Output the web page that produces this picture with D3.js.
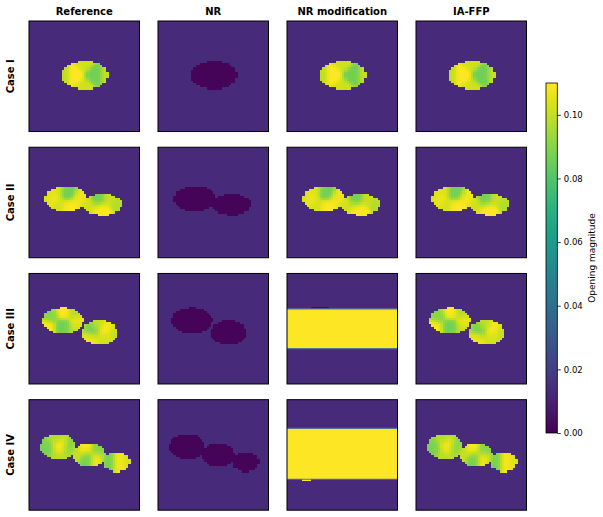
<!DOCTYPE html>
<html><head><meta charset="utf-8">
<script src="https://cdn.jsdelivr.net/npm/d3@7"></script>
<style>body{margin:0;background:#fff}svg{display:block}text{font-family:"DejaVu Sans",sans-serif}</style>
</head><body>
<div id="chart"></div>
<script>
// ---------------- data ----------------
const columns = ["Reference", "NR", "NR modification", "IA-FFP"];
const cases = ["Case I", "Case II", "Case III", "Case IV"];
const gridSize = 50;
const vmax = 0.11;
const backgroundOpening = 0.013;
const nrOpening = 0.001;
const colorbarTicks = [0.00, 0.02, 0.04, 0.06, 0.08, 0.10];
const colorbarLabel = "Opening magnitude";

// fracture ellipses per case: [cx, cy, rx, ry] in grid cells
const caseIEllipses = [[25.3, 24.5, 10.5, 6.4]];
const caseIIEllipses = [[16.7, 23.4, 9.5, 5.8], [33.2, 25.9, 8.7, 4.8]];
const caseIIIEllipses = [[15.4, 21.3, 9.2, 5.9], [32.0, 26.7, 8.0, 5.7]];
const caseIVEllipses = [[13.3, 21.3, 8.0, 5.7], [27.2, 25.0, 7.4, 5.2], [39.6, 28.1, 6.1, 4.5]];

// opening values read at points inside the fractures: [x, y, opening]
const caseISpots = [[20.5, 24.5, 0.110], [30, 24.5, 0.086], [15, 24.5, 0.098], [35.5, 24.5, 0.100], [25, 18.5, 0.102], [25, 30.5, 0.102]];
const caseIISpots = [[17.8, 20.3, 0.086], [10, 23.5, 0.110], [18.5, 27.5, 0.110], [23.5, 23, 0.108], [7.5, 23, 0.100], [13, 26.5, 0.102], [12, 19.5, 0.104],
                     [31.4, 23, 0.086], [32.9, 28.5, 0.110], [40, 25, 0.097], [37, 22.5, 0.102], [26.5, 26.5, 0.102]];
const caseIIISpots = [[15.5, 16.8, 0.110], [15.5, 24.5, 0.086], [8, 24.5, 0.110], [22, 21.8, 0.108], [9.5, 19, 0.090], [21, 17.5, 0.096], [21, 25.5, 0.099],
                      [28, 25.3, 0.086], [35, 25.3, 0.110], [27, 29.5, 0.108], [31, 22, 0.100], [35, 30, 0.102], [39, 26.5, 0.099]];
const caseIVSpots = [[8.2, 22, 0.088], [14, 21.4, 0.110], [18.5, 22, 0.089], [12, 16.5, 0.097], [13, 26, 0.098],
                     [25.3, 22, 0.110], [26, 26.6, 0.086], [30.6, 26.6, 0.110], [31.4, 22.9, 0.089], [21.5, 24.5, 0.102],
                     [35.9, 28.1, 0.087], [41.2, 28.1, 0.110], [44.5, 28, 0.102]];

// NR modification blow-ups (cases III and IV): [firstRow, lastRow]
const nrModBandRows = [null, null, [16, 33], [13, 35]];
// extra cells in those panels: [row, firstCol, lastCol, opening]
const nrModExtraCells = [[], [], [[15, 11, 18, 0.002]], [[36, 7, 10, 0.11]]];
const bandOpening = 0.11;

const ellipsesByCase = [caseIEllipses, caseIIEllipses, caseIIIEllipses, caseIVEllipses];
const spotsByCase = [caseISpots, caseIISpots, caseIIISpots, caseIVSpots];

// ---------------- fields ----------------
function inside(ells, x, y) {
  return ells.some(([cx, cy, rx, ry]) => ((x - cx) / rx) ** 2 + ((y - cy) / ry) ** 2 <= 1);
}
function spotValue(spots, x, y) {
  let sw = 0, sv = 0;
  const s2 = 2 * 2.0 * 2.0;
  for (const [sx, sy, v] of spots) {
    const w = Math.exp(-((x - sx) ** 2 + (y - sy) ** 2) / s2) + 1e-12;
    sw += w; sv += w * v;
  }
  return sv / sw;
}
function field(ci, colIdx) {
  const g = [];
  for (let r = 0; r < gridSize; r++) {
    const row = [];
    for (let c = 0; c < gridSize; c++) {
      const x = c + 0.5, y = r + 0.5;
      let v = backgroundOpening;
      if (colIdx === 2 && nrModBandRows[ci]) {
        const [a, b] = nrModBandRows[ci];
        if (r >= a && r <= b) v = bandOpening;
        for (const [er, c0, c1, ev] of nrModExtraCells[ci]) if (r === er && c >= c0 && c <= c1) v = ev;
      } else if (inside(ellipsesByCase[ci], x, y)) {
        v = colIdx === 1 ? nrOpening : spotValue(spotsByCase[ci], x, y);
      }
      row.push(v);
    }
    g.push(row);
  }
  return g;
}

// ---------------- drawing ----------------
const W = 603, H = 517;
const svg = d3.select("#chart").append("svg").attr("width", W).attr("height", H);
const color = d3.scaleSequential(d3.interpolateViridis).domain([0, vmax]).clamp(true);

const colBand = d3.scaleBand().domain(columns).range([29, 526.5]).paddingInner(0.1434);
const rowBand = d3.scaleBand().domain(cases).range([21, 510.2]).paddingInner(0.1244);

cases.forEach((cs, ci) => {
  columns.forEach((col, colIdx) => {
    const x0 = colBand(col), y0 = rowBand(cs);
    const gx = d3.scaleLinear().domain([0, gridSize]).range([x0, x0 + colBand.bandwidth()]);
    const gy = d3.scaleLinear().domain([0, gridSize]).range([y0, y0 + rowBand.bandwidth()]);
    const g = svg.append("g");
    g.append("rect").attr("x", gx(0)).attr("y", gy(0))
      .attr("width", gx(gridSize) - gx(0)).attr("height", gy(gridSize) - gy(0))
      .attr("fill", color(backgroundOpening));
    const f = field(ci, colIdx);
    const runs = [];
    f.forEach((row, r) => {
      let c = 0;
      while (c < gridSize) {
        const v = row[c];
        let e = c + 1;
        while (e < gridSize && Math.abs(row[e] - v) < 1e-4) e++;
        if (v !== backgroundOpening) runs.push({ r, c0: c, c1: e, v });
        c = e;
      }
    });
    g.selectAll("rect.cell").data(runs).join("rect").attr("class", "cell")
      .attr("x", d => gx(d.c0)).attr("y", d => gy(d.r))
      .attr("width", d => gx(d.c1) - gx(d.c0)).attr("height", d => gy(d.r + 1) - gy(d.r))
      .attr("fill", d => color(d.v)).attr("shape-rendering", "crispEdges");
    // thin resampling edge lines at band boundaries
    if (colIdx === 2 && nrModBandRows[ci]) {
      const [a, b] = nrModBandRows[ci];
      g.selectAll("line.edge").data([a, b + 1]).join("line").attr("class", "edge")
        .attr("x1", gx(0)).attr("x2", gx(gridSize)).attr("y1", d => gy(d)).attr("y2", d => gy(d))
        .attr("stroke", "#5d6f98").attr("stroke-width", 1.2);
    }
    g.append("rect").attr("x", gx(0)).attr("y", gy(0))
      .attr("width", gx(gridSize) - gx(0)).attr("height", gy(gridSize) - gy(0))
      .attr("fill", "none").attr("stroke", "#000").attr("stroke-width", 1);
  });
});

// column titles
svg.selectAll("text.coltitle").data(columns).join("text").attr("class", "coltitle")
  .attr("x", d => colBand(d) + colBand.bandwidth() / 2).attr("y", 14.5)
  .attr("text-anchor", "middle").attr("font-size", 10).attr("font-weight", "bold").text(d => d);

// row labels
svg.selectAll("text.rowlabel").data(cases).join("text").attr("class", "rowlabel")
  .attr("transform", d => `translate(13.5,${rowBand(d) + rowBand.bandwidth() / 2}) rotate(-90)`)
  .attr("text-anchor", "middle").attr("font-size", 10).attr("font-weight", "bold").text(d => d);

// colorbar
const cbX = 546, cbW = 11.3, cbTop = 83, cbBottom = 433;
const cbScale = d3.scaleLinear().domain([0, vmax]).range([cbBottom, cbTop]);
const defs = svg.append("defs");
const grad = defs.append("linearGradient").attr("id", "cbgrad").attr("x1", 0).attr("y1", 1).attr("x2", 0).attr("y2", 0);
d3.range(0, 1.0001, 0.05).forEach(t => grad.append("stop").attr("offset", t).attr("stop-color", d3.interpolateViridis(t)));
svg.append("rect").attr("x", cbX).attr("y", cbTop).attr("width", cbW).attr("height", cbBottom - cbTop)
  .attr("fill", "url(#cbgrad)");
svg.append("rect").attr("x", cbX).attr("y", cbTop).attr("width", cbW).attr("height", cbBottom - cbTop)
  .attr("fill", "none").attr("stroke", "#000").attr("stroke-width", 0.8);
const cbAxis = d3.axisRight(cbScale).tickValues(colorbarTicks).tickFormat(d3.format(".2f")).tickSize(3.5).tickPadding(3);
const ag = svg.append("g").attr("transform", `translate(${cbX + cbW},0)`).call(cbAxis);
ag.select(".domain").remove();
ag.selectAll("text").attr("font-size", 8.5).attr("font-family", "DejaVu Sans").attr("fill", "#000");
ag.selectAll("line").attr("stroke", "#000").attr("stroke-width", 0.8);
svg.append("text").attr("transform", `translate(594.5,${(cbTop + cbBottom) / 2}) rotate(-90)`)
  .attr("text-anchor", "middle").attr("font-size", 9).text(colorbarLabel);
</script>
</body></html>
